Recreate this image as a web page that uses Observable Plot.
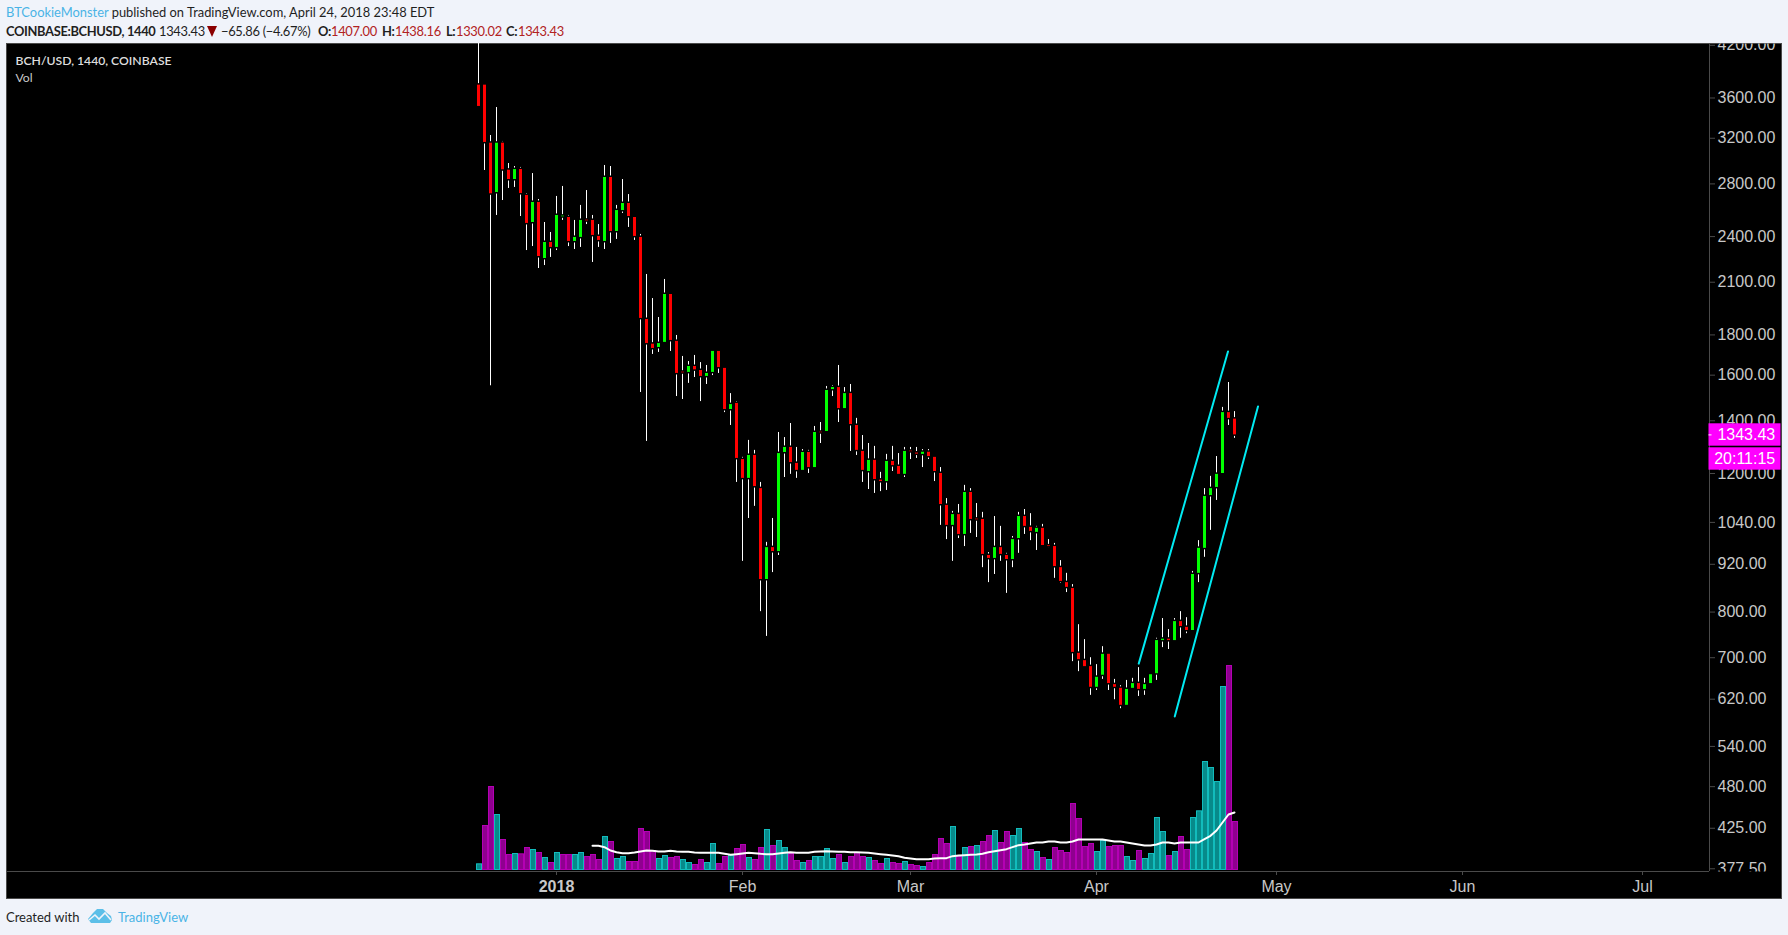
<!doctype html>
<html><head><meta charset="utf-8">
<script src="https://cdn.jsdelivr.net/npm/d3@7"></script>
<script src="https://cdn.jsdelivr.net/npm/@observablehq/plot@0.6"></script>
<style>
html,body{margin:0;padding:0;background:#f0f3fa;width:1788px;height:935px;overflow:hidden}
.t{position:absolute;white-space:nowrap;font-family:Lato,'Open Sans',sans-serif;font-size:12.9px;line-height:16px;color:#1f1f1f}
.b{font-weight:700;letter-spacing:-.35px}.r{color:#b22222}.l{color:#4ab3e6}.n{letter-spacing:-.3px}
#panel{position:absolute;left:6px;top:43px;width:1774px;height:854px;background:#000;border:1px solid #4a4a4a}
#panel svg{position:absolute;left:-1px;top:-1px;max-width:none}
</style></head><body>
<div class="t" style="left:6px;top:4px"><span class="l">BTCookieMonster</span> published on TradingView.com, April 24, 2018 23:48 EDT</div>
<div class="t b" style="left:6px;top:23px">COINBASE:BCHUSD, 1440</div>
<div class="t n" style="left:159px;top:23px">1343.43</div>
<svg style="position:absolute;left:207px;top:26px" width="10" height="11"><path d="M0 0H10L5 11Z" fill="#8b0000"/></svg>
<div class="t n" style="left:221px;top:23px">−65.86 (−4.67%)</div>
<div class="t b" style="left:318px;top:23px">O:</div><div class="t r n" style="left:331px;top:23px">1407.00</div>
<div class="t b" style="left:382px;top:23px">H:</div><div class="t r n" style="left:395px;top:23px">1438.16</div>
<div class="t b" style="left:446px;top:23px">L:</div><div class="t r n" style="left:456px;top:23px">1330.02</div>
<div class="t b" style="left:506px;top:23px">C:</div><div class="t r n" style="left:518px;top:23px">1343.43</div>
<div id="panel"></div>
<div class="t" style="left:6px;top:909px;font-size:13px">Created with</div>
<svg style="position:absolute;left:88px;top:908px" width="24" height="16" viewBox="0 0 24 16"><path d="M0 11 5 5 9 1H15L19 5 23 8 24 12 22 15H3Z" fill="#5cbfe8"/><path d="M1 12 7 7 11 11 17 5 23 12" fill="none" stroke="#f0f3fa" stroke-width="1.6"/></svg>
<div class="t l" style="left:118px;top:909px;font-size:13px">TradingView</div>
<script>
// Daily candles from 2017-12-19 to 2018-04-24 (price in USD)
const firstDay = Date.UTC(2017, 11, 19);
const open = [3738,3738,3154,2730,3154,2915,2836,2920,2707,2501,2652,2251,2359,2325,2543,2538,2366,2394,2518,2516,2401,2366,2853,2436,2590,2644,2538,
2394,1883,1752,1735,1761,2026,1766,1614,1613,1641,1622,1594,1613,1715,1632,1447,1473,1250,1183,1265,1148,880,966,955,1276,1295,1236,1211,1276,1221,1354,1357,1534,1543,1451,1516,1381,1280,1207,1247,1177,1172,1243,1225,1197,1281,1274,
1269,1277,1258,1200,1093,1031,1064,1004,1135,1050,1049,944,936,966,944,933,992,1058,1025,1010,1022,971,969,911,872,857,709,694,682,642,665,707,647,640,609,640,649,638,649,668,736,739,736,778,765,758,896,964,1125,1152,1200,1434,1407];
const close = [3512,3161,2720,3154,2918,2836,2920,2722,2494,2652,2264,2359,2325,2553,2548,2366,2394,2516,2513,2408,2373,2853,2436,2590,2644,2545,2401,
1889,1755,1730,1755,2026,1771,1608,1611,1641,1625,1594,1608,1715,1636,1447,1468,1254,1183,1265,1155,880,966,955,1272,1295,1239,1211,1276,1221,1353,1352,1530,1543,1451,1516,1385,1284,1211,1247,1179,1172,1243,1228,1197,1280,1279,1270,
1277,1261,1207,1096,1031,1064,1004,1135,1049,1048,947,936,966,947,933,989,1058,1028,1013,1022,972,969,914,875,860,711,696,682,642,661,707,649,642,609,638,649,638,647,666,736,739,736,778,767,758,893,964,1122,1148,1197,1434,1410,1343.43];
const high = [4399,3738,3226,3501,3170,2972,2946,2938,2722,2886,2675,2501,2429,2699,2779,2553,2516,2629,2746,2553,2486,2955,2946,2629,2836,2714,2538,
2415,2148,2002,1894,2117,2026,1797,1690,1665,1695,1660,1646,1715,1715,1632,1516,1481,1258,1322,1284,1169,981,1052,1353,1333,1389,1295,1287,1284,1377,1393,1548,1552,1646,1543,1557,1410,1341,1310,1299,1204,1269,1299,1272,1295,1295,1295,
1287,1287,1259,1221,1115,1074,1096,1159,1148,1099,1071,952,1058,1028,950,998,1071,1080,1067,1028,1034,989,978,930,896,867,771,738,700,686,723,707,657,645,655,659,680,659,666,741,785,760,785,801,787,901,986,1148,1190,1261,1456,1566,1438.16];
const low = [3512,2912,1551,2553,2667,2763,2771,2545,2304,2331,2186,2205,2258,2304,2516,2331,2311,2325,2486,2225,2325,2311,2352,2380,2568,2465,2373,
1521,1318,1700,1710,1761,1715,1503,1490,1562,1589,1481,1557,1598,1608,1434,1381,1169,928,1052,1090,801,745,898,944,1186,1197,1183,1211,1200,1221,1310,1357,1503,1393,1451,1280,1265,1169,1145,1132,1138,1142,1207,1197,1186,1250,1254,
1221,1250,1172,1031,989,928,992,969,1007,995,911,872,893,928,845,911,950,1004,986,958,972,966,883,870,847,692,672,682,627,636,657,636,619,603,609,640,625,627,649,655,721,717,736,741,751,758,872,939,1016,1109,1200,1381,1330.02];
// Volume (relative units; the pane has no scale) and whether the bar is rising (T) or falling (P)
const volume = [20,135,252,168,93,48,51,50,69,63,54,39,24,54,48,48,48,54,42,48,33,102,87,36,42,27,27,
126,117,60,36,45,39,42,33,24,18,33,24,81,21,42,45,66,78,39,33,69,123,75,90,69,51,30,24,30,42,42,66,36,48,24,42,54,42,39,30,21,36,24,21,27,18,15,
12,24,48,96,81,132,42,69,72,75,87,105,120,84,117,105,126,84,63,57,39,33,69,60,54,201,156,72,81,57,90,72,75,75,42,30,60,36,51,159,117,45,57,102,63,159,179,327,309,267,552,615,147];
const volumeSide = ["TPPTPPTPPTPTPTPPTTPPPTPTTPP",
  "PPPTTPPTTPPTTPPTPPTPPTPTTPPTPTTTTPTPPPTPPTPPTPP",
  "TPPPPTPTPTPPTPPTTPPTPTPPPPPPPTTPPPTTPTTTTPTPPTTTTTTPP"].join("").split("");
// 20-day volume average, starting on the 20th candle
const volumeMA = [74,74,70,60,55,52,52,54,57,60,59,57,57,59,57,56,56,54,53,53,53,53,50,47,49,51,53,52,50,49,49,51,53,55,53,53,53,56,57,58,57,56,56,55,55,
54,53,51,49,47,45,43,38,36,34,34,34,36,37,37,43,45,46,47,48,50,55,58,61,64,70,76,78,81,84,84,87,87,84,84,87,93,93,93,93,93,90,87,87,84,81,78,75,75,78,84,84,81,84,84,84,84,94,104,120,144,168,174];
// Channel lines
const channelSeries = ["upper","upper","lower","lower"];
const channelTime = ["2018-04-08T01:00Z","2018-04-22T22:00Z","2018-04-14T01:00Z","2018-04-27T22:00Z"];
const channelPrice = [688,1715,589.5,1460];
// Axes
const priceTicks = [4200,3600,3200,2800,2400,2100,1800,1600,1400,1200,1040,920,800,700,620,540,480,425,377.5];
const monthTicks = ["2018-02-01","2018-03-01","2018-04-01","2018-05-01","2018-06-01","2018-07-01"];
const yearTicks = ["2018-01-01"];
const xDomain = ["2017-10-01T08:00Z","2018-07-12T04:00Z"];
const yDomain = [374.5,4222.3];
// Last-price tags
const tagLabels = ["1343.43","20:11:15"];
const tagPrices = [1343.43,1252];
const tagTop = [1387.8,1293.7];
const tagBottom = [1299.8,1211.7];

const DAY = 864e5;
const candles = open.map((o,i)=>({t:new Date(firstDay+i*DAY),open:o,close:close[i],high:high[i],low:low[i],vol:volume[i],side:volumeSide[i],ma:i>=19?volumeMA[i-19]:null}));
const channel = channelTime.map((t,i)=>({t:new Date(t),price:channelPrice[i],s:channelSeries[i]}));
const tags = tagLabels.map((l,i)=>({l,p:tagPrices[i],top:tagTop[i],bot:tagBottom[i]}));
const xScale = {type:"utc",domain:xDomain.map(d=>new Date(d)),label:null};
const base = {width:1775,height:855,marginLeft:0,marginRight:72,marginTop:0,marginBottom:27,
  style:{background:"transparent",fontFamily:"'Liberation Sans',Arial,sans-serif"}};
const dates = a=>a.map(d=>new Date(d));
const GREEN="#00ff00",RED="#ff0000";

const volPlot = Plot.plot({...base,marginBottom:28,x:{...xScale,axis:null},
  y:{domain:[0,2481],range:[827,0],axis:null},
  marks:[
    Plot.rect(candles,{x1:d=>new Date(+d.t-DAY/2),x2:d=>new Date(+d.t+DAY/2),y1:()=>0,y2:"vol",dx:1,
      insetLeft:0.5,insetRight:0.5,insetTop:0.5,insetBottom:0.5,
      fill:d=>d.side==="T"?"#078a8a":"#8f008f",stroke:d=>d.side==="T"?"#12bcbc":"#b400b4",strokeWidth:1}),
    Plot.line(candles.filter(d=>d.ma!=null),{x:"t",y:"ma",stroke:"#ffffff",strokeWidth:2,curve:"linear"})
  ]});

const pricePlot = Plot.plot({...base,x:xScale,
  y:{type:"log",domain:yDomain,range:[828,0],label:null},
  marks:[
    Plot.ruleY([yDomain[0]],{stroke:"#4a4a4a",x1:()=>dates(xDomain)[0],x2:()=>dates(xDomain)[1]}),
    Plot.ruleX([dates(xDomain)[1]],{stroke:"#4a4a4a"}),
    Plot.axisY({anchor:"right",ticks:priceTicks,tickFormat:d=>d.toFixed(2),tickSize:5,tickPadding:3,textAnchor:"start",fontSize:16,stroke:"#4a4a4a",fill:"#c8c8c8",label:null}),
    Plot.axisX({anchor:"bottom",ticks:dates(monthTicks),tickFormat:d3.utcFormat("%b"),tickSize:4,tickPadding:5,fontSize:16,stroke:"#4a4a4a",fill:"#c8c8c8",label:null}),
    Plot.axisX({anchor:"bottom",ticks:dates(yearTicks),tickFormat:d3.utcFormat("%Y"),tickSize:4,tickPadding:5,fontSize:16,fontWeight:"bold",stroke:"#4a4a4a",fill:"#c8c8c8",label:null}),
    Plot.ruleX(candles,{x:"t",y1:"low",y2:"high",stroke:"#ffffff",strokeWidth:1}),
    Plot.ruleX(candles,{x:"t",y1:"open",y2:"close",stroke:"#000000",strokeWidth:3,strokeLinecap:"square"}),
    Plot.ruleX(candles,{x:"t",y1:"open",y2:"close",stroke:d=>d.close>=d.open?GREEN:RED,strokeWidth:3}),
    Plot.line(channel,{x:"t",y:"price",z:"s",stroke:"#00eaf2",strokeWidth:2}),
    Plot.rect(tags,{x1:()=>new Date("2018-07-12T02:00Z"),x2:()=>new Date("2018-07-24T02:00Z"),y1:"bot",y2:"top",fill:"#ff00ff"}),
    Plot.ruleY([tagPrices[0]],{x1:()=>new Date("2018-07-12T02:00Z"),x2:()=>new Date("2018-07-12T14:00Z"),stroke:"#ffffff"}),
    Plot.text(tags,{x:()=>new Date("2018-07-23T03:00Z"),y:"p",text:"l",textAnchor:"end",fill:"#ffffff",fontSize:16,lineAnchor:"middle"}),
    Plot.text(["BCH/USD, 1440, COINBASE"],{frameAnchor:"top-left",dx:9,dy:13,fill:"#dddddd",fontSize:12.2,fontFamily:"Lato",fontWeight:600,textAnchor:"start"}),
    Plot.text(["Vol"],{frameAnchor:"top-left",dx:9,dy:30,fill:"#c8c8c8",fontSize:12.2,fontFamily:"Lato",textAnchor:"start"})
  ]});

const panel = document.getElementById("panel");
panel.append(volPlot,pricePlot);
// The price-axis labels end where the plot frame ends.
const ns="http://www.w3.org/2000/svg";
const clip=document.createElementNS(ns,"clipPath");clip.id="axisclip";
const r=document.createElementNS(ns,"rect");r.setAttribute("x",0);r.setAttribute("y",0);r.setAttribute("width",1775);r.setAttribute("height",828);
clip.append(r);pricePlot.append(clip);
d3.select(pricePlot).selectAll('g[aria-label="y-axis tick label"]').attr("clip-path","url(#axisclip)");
</script></body></html>
